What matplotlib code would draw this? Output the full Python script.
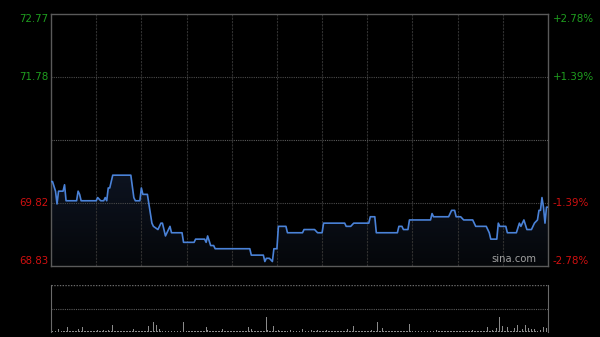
import matplotlib
matplotlib.use("Agg")
import matplotlib.pyplot as plt
import numpy as np
from matplotlib.colors import LinearSegmentedColormap

# ---- data ----
prev_close = 70.80
y_ticks = [68.83, 69.82, 71.78, 72.77]
pct_labels = ["-2.78%", "-1.39%", "+1.39%", "+2.78%"]

# minutes from open (HK session, 330 trading minutes) and prices
minutes = [0, 1, 3, 4, 5, 8, 9, 10, 17, 18, 19, 20, 30, 31, 33, 35, 36, 37, 38, 39,
           41, 53, 55, 56, 59, 60, 61, 64, 65, 67, 68, 71, 73, 74, 76, 79, 80, 87, 88, 95,
           96, 102, 103, 104, 106, 108, 109, 132, 133, 141, 142, 143, 145, 147, 148, 150, 151, 156, 157, 167,
           168, 175, 177, 180, 181, 195, 196, 199, 201, 211, 212, 215, 216, 230, 231, 233, 234, 237, 238, 252,
           253, 254, 264, 266, 268, 269, 272, 274, 280, 282, 289, 291, 292, 296, 297, 298, 302, 303, 309, 311,
           312, 314, 316, 319, 321, 323, 324, 325, 326, 327, 328, 329, 330]
prices = [70.15, 70.15, 70.00, 69.80, 70.00, 70.00, 70.10, 69.85, 69.85, 70.00, 69.95, 69.85, 69.85, 69.90, 69.85, 69.85, 69.90, 69.85, 70.05, 70.05,
          70.25, 70.25, 69.90, 69.85, 69.85, 70.05, 69.95, 69.95, 69.80, 69.50, 69.45, 69.40, 69.50, 69.50, 69.30, 69.45, 69.35, 69.35, 69.20, 69.20,
          69.25, 69.25, 69.20, 69.30, 69.15, 69.15, 69.10, 69.10, 69.00, 69.00, 68.90, 68.95, 68.95, 68.90, 69.10, 69.10, 69.45, 69.45, 69.35, 69.35,
          69.40, 69.40, 69.35, 69.35, 69.50, 69.50, 69.45, 69.45, 69.50, 69.50, 69.60, 69.60, 69.35, 69.35, 69.45, 69.45, 69.40, 69.40, 69.55, 69.55,
          69.65, 69.60, 69.60, 69.70, 69.70, 69.60, 69.60, 69.55, 69.55, 69.45, 69.45, 69.35, 69.25, 69.25, 69.50, 69.45, 69.45, 69.35, 69.35, 69.50,
          69.45, 69.55, 69.40, 69.40, 69.50, 69.55, 69.70, 69.70, 69.90, 69.75, 69.50, 69.75, 69.75]

# visible volume bars (minute, relative height); other minutes are tiny
vol_minutes = [0, 5, 11, 18, 21, 31, 35, 38, 41, 55, 65, 68, 70, 72, 88, 103, 104, 114, 131, 133,
               143, 144, 148, 151, 159, 167, 173, 177, 183, 197, 201, 213, 217, 220, 238, 256, 280, 290, 293, 296,
               298, 300, 303, 308, 310, 313, 315, 317, 319, 321, 325, 327, 329]
vol_values = [7, 3, 5, 3, 5, 2, 2, 2, 7, 3, 6, 10, 7, 3, 10, 5, 2, 3, 5, 3,
              15, 2, 6, 2, 2, 3, 2, 2, 2, 3, 6, 2, 10, 4, 8, 2, 2, 5, 2, 4,
              15, 6, 5, 4, 7, 3, 7, 4, 3, 3, 2, 5, 4]
base_volume = 1
vol_max = 47

n_minutes = 330

# ---- figure ----
fig = plt.figure(figsize=(6.0, 3.37), dpi=100, facecolor="black")
ax = fig.add_axes([51/600, 71/337, 497/600, 252/337], facecolor="black")
axv = fig.add_axes([51/600, 5/337, 497/600, 47/337], facecolor="black")

ymin, ymax = y_ticks[0], y_ticks[-1]
ax.set_xlim(0, n_minutes)
ax.set_ylim(ymin, ymax)

# gradient fill under line
verts = list(zip(minutes, prices)) + [(minutes[-1], ymin), (minutes[0], ymin)]
poly = plt.Polygon(verts, closed=True, facecolor="none", edgecolor="none")
ax.add_patch(poly)
grad = np.linspace(0, 1, 256).reshape(-1, 1)
cmap = LinearSegmentedColormap.from_list("g", ["#05070a", "#0d1320"])
im = ax.imshow(grad, extent=[0, n_minutes, ymin, max(prices)], origin="lower",
               cmap=cmap, aspect="auto", zorder=1)
im.set_clip_path(poly)

ax.plot(minutes, prices, color="#4a82d8", lw=1.2, zorder=3)

# grid
for m in range(30, n_minutes, 30):
    ax.axvline(m, color="#303030", lw=0.8, ls=(0, (2, 1)), zorder=2)
for v in [y_ticks[1], y_ticks[2]]:
    ax.axhline(v, color="#4a4a4a", lw=0.8, ls=(0, (1, 1)), zorder=2)
ax.axhline(prev_close, color="#5a5a5a", lw=0.8, ls=(0, (1, 1)), zorder=2)

for s in ax.spines.values():
    s.set_color("#5a5a5a")
    s.set_linewidth(1.0)
ax.set_xticks([])
ax.set_yticks([])

green = "#1f9e1f"
red = "#d01010"
fs = 7.4
tr = ax.get_yaxis_transform()
# left labels
ax.text(-0.006, ymax, f"{y_ticks[3]:.2f}", transform=tr, ha="right", va="top", color=green, fontsize=fs)
ax.text(-0.006, y_ticks[2], f"{y_ticks[2]:.2f}", transform=tr, ha="right", va="center", color=green, fontsize=fs)
ax.text(-0.006, y_ticks[1], f"{y_ticks[1]:.2f}", transform=tr, ha="right", va="center", color=red, fontsize=fs)
ax.text(-0.006, ymin, f"{y_ticks[0]:.2f}", transform=tr, ha="right", va="bottom", color=red, fontsize=fs)
# right labels
ax.text(1.010, ymax, pct_labels[3], transform=tr, ha="left", va="top", color=green, fontsize=fs)
ax.text(1.010, y_ticks[2], pct_labels[2], transform=tr, ha="left", va="center", color=green, fontsize=fs)
ax.text(1.010, y_ticks[1], pct_labels[1], transform=tr, ha="left", va="center", color=red, fontsize=fs)
ax.text(1.010, ymin, pct_labels[0], transform=tr, ha="left", va="bottom", color=red, fontsize=fs)

ax.text(0.977, 0.008, "sina.com", transform=ax.transAxes, ha="right", va="bottom",
        color="#a0a0a0", fontsize=7.2, zorder=5)

# volume panel
vols = {m: base_volume for m in range(n_minutes + 1)}
for m, v in zip(vol_minutes, vol_values):
    vols[m] = v
axv.bar(list(vols.keys()), list(vols.values()), width=0.6, color="#8a8a8a", zorder=3)
axv.set_xlim(0, n_minutes)
axv.set_ylim(0, vol_max)
axv.axhline(vol_max / 2, color="#5a5a5a", lw=0.8, ls=(0, (1, 1)))
axv.axhline(vol_max, color="#6a6a6a", lw=1.0, ls=(0, (1, 1)))
axv.set_xticks([])
axv.set_yticks([])
for k in ["left", "right"]:
    axv.spines[k].set_color("#6a6a6a")
axv.spines["top"].set_visible(False)
axv.spines["bottom"].set_visible(False)

fig.savefig("out.png", dpi=100, facecolor="black")
